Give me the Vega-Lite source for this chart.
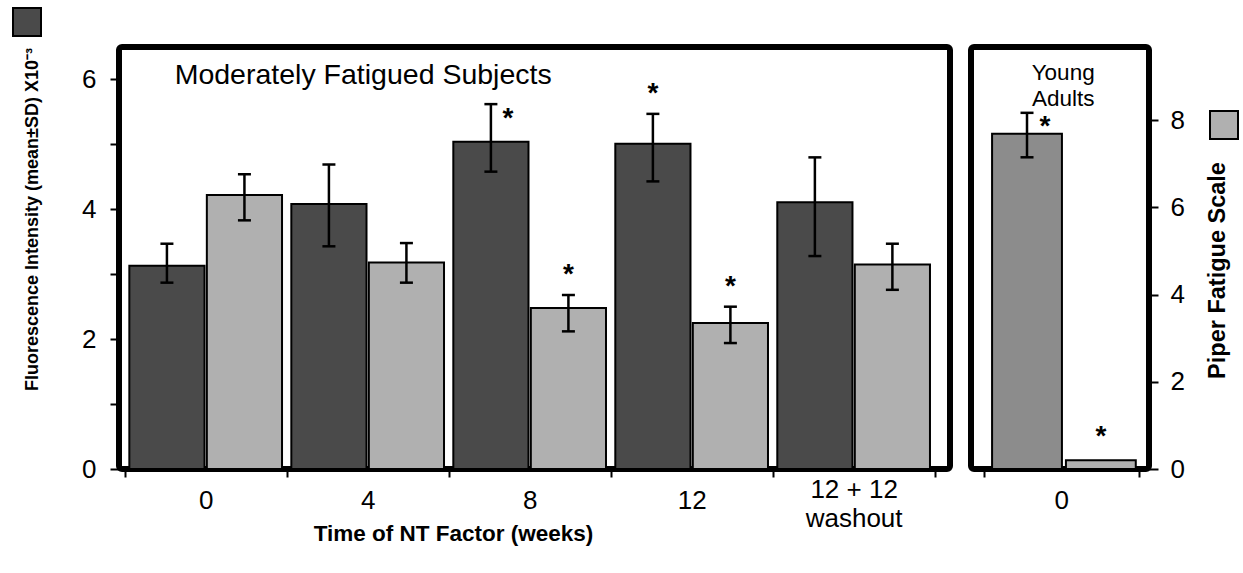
{
  "$schema": "https://vega.github.io/schema/vega-lite/v6.json",
  "padding": {"left": 9, "top": 4, "right": 2, "bottom": 2},
  "config": {
    "font": "Liberation Sans",
    "view": {"stroke": "black", "strokeWidth": 6, "cornerRadius": 3},
    "axis": {"domain": false, "grid": false, "labelColor": "black", "titleColor": "black", "tickColor": "black", "labelFont": "Liberation Sans", "titleFont": "Liberation Sans"},
    "concat": {"spacing": 15},
    "legend": {"padding": 0}
  },
  "datasets": {
    "mod": [
      {"time": "0", "series": "F", "value": 3.13, "lo": 2.87, "hi": 3.47, "top": 3.47, "star": ""},
      {"time": "0", "series": "P", "value": 4.22, "lo": 3.83, "hi": 4.54, "top": 4.54, "star": ""},
      {"time": "4", "series": "F", "value": 4.08, "lo": 3.43, "hi": 4.69, "top": 4.69, "star": ""},
      {"time": "4", "series": "P", "value": 3.18, "lo": 2.87, "hi": 3.48, "top": 3.48, "star": ""},
      {"time": "8", "series": "F", "value": 5.04, "lo": 4.58, "hi": 5.62, "top": 5.62, "star": "side"},
      {"time": "8", "series": "P", "value": 2.48, "lo": 2.12, "hi": 2.68, "top": 2.68, "star": "above"},
      {"time": "12", "series": "F", "value": 5.01, "lo": 4.43, "hi": 5.47, "top": 5.47, "star": "above"},
      {"time": "12", "series": "P", "value": 2.25, "lo": 1.94, "hi": 2.5, "top": 2.5, "star": "above"},
      {"time": "12 + 12 washout", "series": "F", "value": 4.11, "lo": 3.28, "hi": 4.8, "top": 4.8, "star": ""},
      {"time": "12 + 12 washout", "series": "P", "value": 3.15, "lo": 2.76, "hi": 3.47, "top": 3.47, "star": ""}
    ],
    "young": [
      {"time": "0", "series": "Y", "value": 7.69, "lo": 7.15, "hi": 8.17, "top": 8.17, "star": "side"},
      {"time": "0", "series": "P", "value": 0.2, "lo": null, "hi": null, "top": 0.2, "star": "above"}
    ]
  },
  "resolve": {"scale": {"color": "independent", "y": "independent", "x": "independent", "xOffset": "independent"}},
  "hconcat": [
    {
      "width": 831,
      "height": 422,
      "data": {"name": "mod"},
      "encoding": {
        "x": {
          "field": "time", "type": "nominal", "sort": null,
          "scale": {"paddingInner": 0, "paddingOuter": 0.065, "align": 0.27},
          "axis": {
            "title": "Time of NT Factor (weeks)", "titleFontSize": 22.5, "titleFontWeight": "bold", "titleX": 334, "titleY": 53, "titleBaseline": "top",
            "labelAngle": 0, "labelFontSize": 26, "labelBaseline": "middle", "tickSize": 8, "tickWidth": 2, "tickBand": "extent", "tickExtra": true,
            "labelPadding": {"condition": {"test": "datum.value == '12 + 12 washout'", "value": 12}, "value": 23},
            "labelExpr": "datum.value == '12 + 12 washout' ? ['12 + 12', 'washout'] : datum.label", "labelLineHeight": 29
          }
        }
      },
      "layer": [
        {
          "mark": {"type": "bar", "stroke": "black", "strokeWidth": 2, "opacity": 1},
          "encoding": {
            "xOffset": {"field": "series", "type": "nominal", "sort": ["F", "P"], "scale": {"paddingInner": 0.03, "paddingOuter": 0.06}},
            "y": {
              "field": "value", "type": "quantitative",
              "scale": {"domain": [0, 6.5], "nice": false, "zero": false},
              "axis": {
                "title": "Fluorescence Intensity (mean±SD) X10⁻³", "titleFontSize": 18, "titleFontWeight": "bold", "titleX": -87, "titleY": 172, "titleBaseline": "middle", "titleAngle": -90,
                "values": [0, 1, 2, 3, 4, 5, 6], "format": "d", "labelExpr": "datum.value % 2 == 0 ? datum.label : ''",
                "labelFontSize": 26, "labelPadding": 14, "tickSize": 9, "tickWidth": 2, "labelBaseline": "middle"
              }
            },
            "color": {
              "field": "series", "type": "nominal",
              "scale": {"domain": ["F", "P"], "range": ["#4a4a4a", "#b0b0b0"]},
              "legend": {"orient": "none", "legendX": -107, "legendY": -40, "values": ["F"], "title": null, "labelExpr": "''", "labelFontSize": 1, "symbolType": "square", "symbolSize": 784, "symbolStrokeColor": "black", "symbolStrokeWidth": 2, "symbolOpacity": 1}
            }
          }
        },
        {
          "transform": [{"filter": "isValid(datum.lo)"}],
          "mark": {"type": "rule", "strokeWidth": 2.5, "color": "black"},
          "encoding": {
            "xOffset": {"field": "series", "type": "nominal", "sort": ["F", "P"]},
            "y": {"field": "lo", "type": "quantitative"}, "y2": {"field": "hi"}
          }
        },
        {
          "transform": [{"filter": "isValid(datum.lo)"}],
          "mark": {"type": "tick", "thickness": 2.5, "size": 13, "color": "black", "opacity": 1},
          "encoding": {
            "xOffset": {"field": "series", "type": "nominal", "sort": ["F", "P"]},
            "y": {"field": "lo", "type": "quantitative"}
          }
        },
        {
          "transform": [{"filter": "isValid(datum.hi)"}],
          "mark": {"type": "tick", "thickness": 2.5, "size": 13, "color": "black", "opacity": 1},
          "encoding": {
            "xOffset": {"field": "series", "type": "nominal", "sort": ["F", "P"]},
            "y": {"field": "hi", "type": "quantitative"}
          }
        },
        {
          "transform": [{"filter": "datum.star == 'above'"}],
          "mark": {"type": "text", "text": "*", "fontSize": 28, "fontWeight": "bold", "baseline": "alphabetic", "dy": -12, "color": "black"},
          "encoding": {
            "xOffset": {"field": "series", "type": "nominal", "sort": ["F", "P"]},
            "y": {"field": "top", "type": "quantitative"}
          }
        },
        {
          "transform": [{"filter": "datum.star == 'side'"}],
          "mark": {"type": "text", "text": "*", "fontSize": 28, "fontWeight": "bold", "baseline": "alphabetic", "dy": 23, "dx": 17, "color": "black"},
          "encoding": {
            "xOffset": {"field": "series", "type": "nominal", "sort": ["F", "P"]},
            "y": {"field": "top", "type": "quantitative"}
          }
        },
        {
          "data": {"values": [{"label": "Moderately Fatigued Subjects"}]},
          "mark": {"type": "text", "fontSize": 28.5, "align": "left", "baseline": "alphabetic", "dx": -31, "color": "black"},
          "encoding": {
            "text": {"field": "label"},
            "x": {"datum": "0"},
            "y": {"datum": 5.93}
          }
        }
      ]
    },
    {
      "width": 178,
      "height": 422,
      "data": {"name": "young"},
      "encoding": {
        "x": {
          "field": "time", "type": "nominal",
          "scale": {"paddingInner": 0, "paddingOuter": 0.075, "align": 0.55},
          "axis": {"title": null, "labelAngle": 0, "labelFontSize": 26, "labelPadding": 23, "labelBaseline": "middle", "tickSize": 8, "tickWidth": 2, "tickBand": "extent", "tickExtra": true}
        }
      },
      "layer": [
        {
          "mark": {"type": "bar", "stroke": "black", "strokeWidth": 2, "opacity": 1},
          "encoding": {
            "xOffset": {"field": "series", "type": "nominal", "sort": ["Y", "P"], "scale": {"paddingInner": 0.054, "paddingOuter": 0.075, "align": 0.75}},
            "y": {
              "field": "value", "type": "quantitative",
              "scale": {"domain": [0, 9.68], "nice": false, "zero": false},
              "axis": {
                "orient": "right", "title": "Piper Fatigue Scale", "titleFontSize": 23.5, "titleFontWeight": "bold", "titleX": 68, "titleY": 223, "titleBaseline": "middle", "titleAngle": -90,
                "values": [0, 2, 4, 6, 8], "labelFontSize": 26, "labelPadding": 12, "tickSize": 9, "tickWidth": 2, "labelBaseline": "middle"
              }
            },
            "color": {
              "field": "series", "type": "nominal",
              "scale": {"domain": ["Y", "P"], "range": ["#8c8c8c", "#b0b0b0"]},
              "legend": {"orient": "none", "legendX": 238, "legendY": 63, "values": ["P"], "title": null, "labelExpr": "''", "labelFontSize": 1, "symbolType": "square", "symbolSize": 784, "symbolStrokeColor": "black", "symbolStrokeWidth": 2, "symbolOpacity": 1}
            }
          }
        },
        {
          "transform": [{"filter": "isValid(datum.lo)"}],
          "mark": {"type": "rule", "strokeWidth": 2.5, "color": "black"},
          "encoding": {
            "xOffset": {"field": "series", "type": "nominal", "sort": ["Y", "P"]},
            "y": {"field": "lo", "type": "quantitative"}, "y2": {"field": "hi"}
          }
        },
        {
          "transform": [{"filter": "isValid(datum.lo)"}],
          "mark": {"type": "tick", "thickness": 2.5, "size": 13, "color": "black", "opacity": 1},
          "encoding": {
            "xOffset": {"field": "series", "type": "nominal", "sort": ["Y", "P"]},
            "y": {"field": "lo", "type": "quantitative"}
          }
        },
        {
          "transform": [{"filter": "isValid(datum.hi)"}],
          "mark": {"type": "tick", "thickness": 2.5, "size": 13, "color": "black", "opacity": 1},
          "encoding": {
            "xOffset": {"field": "series", "type": "nominal", "sort": ["Y", "P"]},
            "y": {"field": "hi", "type": "quantitative"}
          }
        },
        {
          "transform": [{"filter": "datum.star == 'above'"}],
          "mark": {"type": "text", "text": "*", "fontSize": 28, "fontWeight": "bold", "baseline": "alphabetic", "dy": -15, "color": "black"},
          "encoding": {
            "xOffset": {"field": "series", "type": "nominal", "sort": ["Y", "P"]},
            "y": {"field": "top", "type": "quantitative"}
          }
        },
        {
          "transform": [{"filter": "datum.star == 'side'"}],
          "mark": {"type": "text", "text": "*", "fontSize": 28, "fontWeight": "bold", "baseline": "alphabetic", "dy": 22, "dx": 18, "color": "black"},
          "encoding": {
            "xOffset": {"field": "series", "type": "nominal", "sort": ["Y", "P"]},
            "y": {"field": "top", "type": "quantitative"}
          }
        },
        {
          "data": {"values": [{"l1": "Young", "l2": "Adults"}]},
          "mark": {"type": "text", "fontSize": 22.5, "lineHeight": 26, "align": "center", "baseline": "alphabetic", "dx": 2, "color": "black"},
          "encoding": {
            "text": {"value": ["Young", "Adults"]},
            "x": {"datum": "0"},
            "y": {"datum": 8.92}
          }
        }
      ]
    }
  ]
}
